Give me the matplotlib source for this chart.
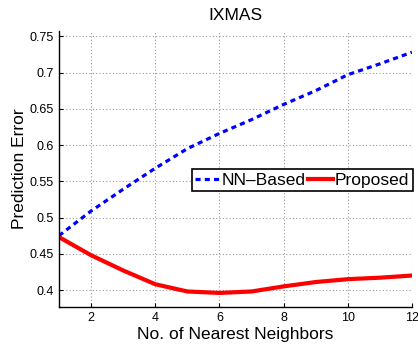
import numpy as np
import matplotlib
matplotlib.use("Agg")
import matplotlib.pyplot as plt
from matplotlib.ticker import FuncFormatter

plt.rcParams["font.family"] = ["Liberation Sans", "DejaVu Sans"]

# --- Data ---
neighbors = [1, 2, 3, 4, 5, 6, 7, 8, 9, 10, 11, 12]
nn_based = [0.475, 0.509, 0.539, 0.568, 0.595, 0.616, 0.635, 0.656, 0.675, 0.697, 0.712, 0.728]
proposed = [0.473, 0.448, 0.427, 0.408, 0.398, 0.396, 0.398, 0.405, 0.411, 0.415, 0.417, 0.420]

x_ticks = [2, 4, 6, 8, 10, 12]
y_ticks = [0.4, 0.45, 0.5, 0.55, 0.6, 0.65, 0.7, 0.75]

fig = plt.figure(figsize=(4.18, 3.47), dpi=100)
ax = fig.add_axes([0.1411, 0.1153, 0.8445, 0.7954])

ax.plot(neighbors, nn_based, color="blue", linewidth=2.3, linestyle=(0, (1.6, 1.3)),
        dash_capstyle="butt", label="NN\u2013Based")
ax.plot(neighbors, proposed, color="red", linewidth=3.0, label="Proposed",
        solid_joinstyle="round")

ax.set_xlim(1, 12)
ax.set_ylim(0.3766, 0.7573)
ax.set_xticks(x_ticks)
ax.set_yticks(y_ticks)
ax.yaxis.set_major_formatter(FuncFormatter(lambda v, p: f"{v:g}"))

# MATLAB style: box off, dotted grid, inward ticks
ax.spines["top"].set_visible(False)
ax.spines["right"].set_visible(False)
ax.spines["left"].set_linewidth(1.0)
ax.spines["bottom"].set_linewidth(1.0)
ax.grid(True, linestyle=(0, (1, 2)), color="#999999", linewidth=0.8)
ax.tick_params(direction="in", length=3, labelsize=9, colors="black")

ax.set_title("IXMAS", fontsize=12.5, pad=8)
ax.set_xlabel("No. of Nearest Neighbors", fontsize=12.5, labelpad=2)
ax.set_ylabel("Prediction Error", fontsize=12.5, labelpad=2)

leg = ax.legend(loc="upper left", bbox_to_anchor=(0.376, 0.499), ncol=2,
                fontsize=12.5, frameon=True, fancybox=False, edgecolor="black",
                framealpha=1, handlelength=1.45, handletextpad=0.1,
                columnspacing=0.1, borderpad=0.2, borderaxespad=0)
leg.get_frame().set_linewidth(1.2)

fig.savefig("out.png", dpi=100)
